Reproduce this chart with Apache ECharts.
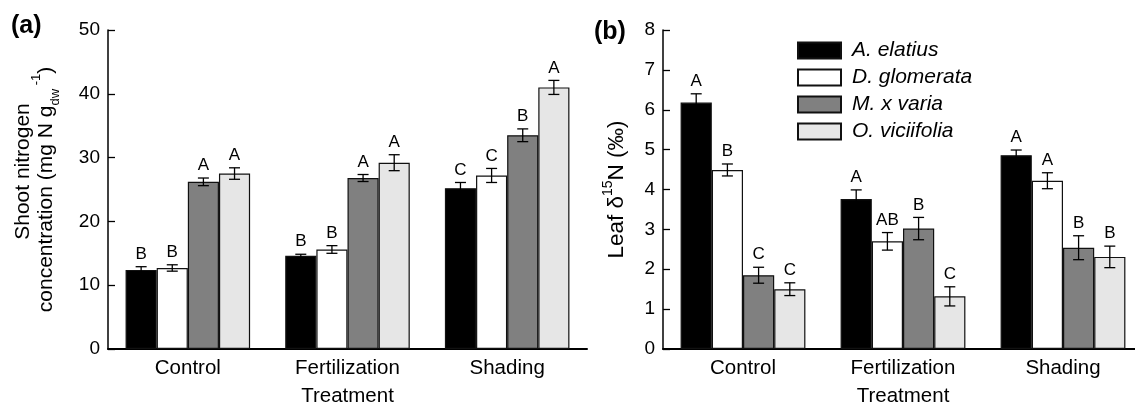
<!DOCTYPE html>
<html>
<head>
<meta charset="utf-8">
<script src="https://cdn.jsdelivr.net/npm/echarts@6/dist/echarts.min.js"></script>
<style>
html,body{margin:0;padding:0;background:#fff;}
#chart{width:1135px;height:410px;}
</style>
</head>
<body>
<div id="chart"></div>
<script>
// ---- data ----
const categories = ['Control', 'Fertilization', 'Shading'];
const species = ['A. elatius', 'D. glomerata', 'M. x varia', 'O. viciifolia'];
// panel (a): shoot nitrogen concentration, one array per species across categories
const shootN = [
  [12.4, 14.6, 25.2],
  [12.7, 15.6, 27.2],
  [26.2, 26.8, 33.5],
  [27.5, 29.2, 41.0]
];
const shootNErr = [
  [0.5, 0.25, 0.9],
  [0.5, 0.6, 1.1],
  [0.6, 0.55, 1.0],
  [0.9, 1.25, 1.1]
];
const shootNLetters = [
  ['B', 'B', 'C'],
  ['B', 'B', 'C'],
  ['A', 'A', 'B'],
  ['A', 'A', 'A']
];
// panel (b): leaf delta 15N
const leafD15N = [
  [6.18, 3.76, 4.86],
  [4.49, 2.70, 4.22],
  [1.85, 3.02, 2.54],
  [1.50, 1.32, 2.31]
];
const leafErr = [
  [0.22, 0.23, 0.13],
  [0.15, 0.22, 0.20],
  [0.20, 0.28, 0.30],
  [0.16, 0.24, 0.27]
];
const leafLetters = [
  ['A', 'A', 'A'],
  ['B', 'AB', 'A'],
  ['C', 'B', 'B'],
  ['C', 'C', 'B']
];
const speciesColors = ['#000000', '#ffffff', '#808080', '#e6e6e6'];

// ---- chart ----
const FONT = "'Liberation Sans', Arial, sans-serif";
const CAT_GAP = 0.22;

function errRenderer(s, letters) {
  return function (params, api) {
    const ci = api.value(0), v = api.value(1), e = api.value(2);
    const band = api.size([1, 0])[0];
    const bw = band * (1 - CAT_GAP) / 4;
    const c = api.coord([ci, v]);
    const x = c[0] + (s - 1.5) * bw;
    const yTop = api.coord([ci, v + e])[1];
    const yBot = api.coord([ci, v - e])[1];
    const cap = 5.5;
    const st = { stroke: '#000', lineWidth: 1.3 };
    return {
      type: 'group',
      children: [
        { type: 'line', shape: { x1: x, y1: yTop, x2: x, y2: yBot }, style: st },
        { type: 'line', shape: { x1: x - cap, y1: yTop, x2: x + cap, y2: yTop }, style: st },
        { type: 'line', shape: { x1: x - cap, y1: yBot, x2: x + cap, y2: yBot }, style: st },
        { type: 'text', x: x, y: yTop - 4,
          style: { text: letters[s][params.dataIndex], align: 'center', verticalAlign: 'bottom',
                   fontSize: 17, fontFamily: FONT, fill: '#000' } }
      ]
    };
  };
}

const series = [];
[[shootN, shootNErr, shootNLetters], [leafD15N, leafErr, leafLetters]].forEach((p, pi) => {
  const vals = p[0], errs = p[1], lets = p[2];
  species.forEach((sp, s) => {
    series.push({
      type: 'bar', name: sp, xAxisIndex: pi, yAxisIndex: pi,
      data: vals[s],
      barGap: '0%', barCategoryGap: (CAT_GAP * 100) + '%',
      itemStyle: { color: speciesColors[s], borderColor: '#111', borderWidth: 1.2 },
      emphasis: { disabled: true },
      animation: false
    });
  });
  species.forEach((sp, s) => {
    series.push({
      type: 'custom', name: 'err' + pi + '_' + s, xAxisIndex: pi, yAxisIndex: pi,
      data: categories.map((c, i) => [i, vals[s][i], errs[s][i]]),
      renderItem: errRenderer(s, lets),
      z: 5, animation: false, silent: true
    });
  });
});

function xAxisCfg(gi) {
  return {
    type: 'category', gridIndex: gi, data: categories,
    axisLine: { lineStyle: { color: '#000', width: 2 } },
    axisTick: { show: false },
    axisLabel: { color: '#000', fontSize: 20.5, fontFamily: FONT, margin: 9 },
    name: 'Treatment', nameLocation: 'middle', nameGap: 37,
    nameTextStyle: { color: '#000', fontSize: 20.5, fontFamily: FONT },
    splitLine: { show: false }
  };
}
function yAxisCfg(gi, max, interval, name, nameGap, rich) {
  return {
    type: 'value', gridIndex: gi, min: 0, max: max, interval: interval,
    axisLine: { show: true, lineStyle: { color: '#000', width: 1.5 } },
    axisTick: { show: true, inside: true, length: 7, lineStyle: { color: '#000', width: 1.3 } },
    axisLabel: { color: '#000', fontSize: 19, fontFamily: FONT, margin: 8 },
    splitLine: { show: false },
    name: name, nameLocation: 'middle', nameRotate: 90, nameGap: nameGap,
    nameMoveOverlap: false,
    nameTextStyle: { color: '#000', fontFamily: FONT, rich: rich }
  };
}

const richA = {
  n1: { fontSize: 21, fontFamily: FONT, color: '#000', lineHeight: 23, padding: [0, 0, 0, 36] },
  n: { fontSize: 21, fontFamily: FONT, color: '#000', lineHeight: 23 },
  sub: { fontSize: 13, fontFamily: FONT, color: '#000', verticalAlign: 'bottom', lineHeight: 23, padding: [0, 0, -4, 0] },
  sup: { fontSize: 13, fontFamily: FONT, color: '#000', verticalAlign: 'top', lineHeight: 23, padding: [-5, 0, 0, 0] }
};
const richB = {
  n: { fontSize: 22.5, fontFamily: FONT, color: '#000', lineHeight: 24 },
  sup: { fontSize: 14, fontFamily: FONT, color: '#000', verticalAlign: 'top', lineHeight: 24, padding: [-4, 0, 0, 0] }
};

const option = {
  backgroundColor: '#fff',
  animation: false,
  title: [
    { text: '(a)', left: 11, top: 14, padding: 0, textStyle: { fontSize: 25, fontWeight: 'bold', fontFamily: FONT, color: '#000' } },
    { text: '(b)', left: 594, top: 20, padding: 0, textStyle: { fontSize: 25, fontWeight: 'bold', fontFamily: FONT, color: '#000' } }
  ],
  legend: {
    data: species, orient: 'vertical', left: 797, top: 40, padding: 0,
    icon: 'rect', itemWidth: 43, itemHeight: 16, itemGap: 6,
    selectedMode: false,
    textStyle: { fontSize: 21, fontStyle: 'italic', fontFamily: FONT, color: '#000', lineHeight: 20, padding: [0, 0, 0, 6] }
  },
  grid: [
    { left: 108, top: 30, width: 479, height: 319, outerBoundsMode: 'none', containLabel: false },
    { left: 663, top: 30, width: 480, height: 319, outerBoundsMode: 'none', containLabel: false }
  ],
  xAxis: [xAxisCfg(0), xAxisCfg(1)],
  yAxis: [
    yAxisCfg(0, 50, 10, '{n1|Shoot nitrogen}\n{n|concentration (mg N g}{sub|dw}{sup| -1}{n|)}', 50, richA),
    yAxisCfg(1, 8, 1, '{n|Leaf δ}{sup|15}{n|N (‰)}', 34, richB)
  ],
  series: series
};

const chart = echarts.init(document.getElementById('chart'));
chart.setOption(option);
</script>
</body>
</html>
